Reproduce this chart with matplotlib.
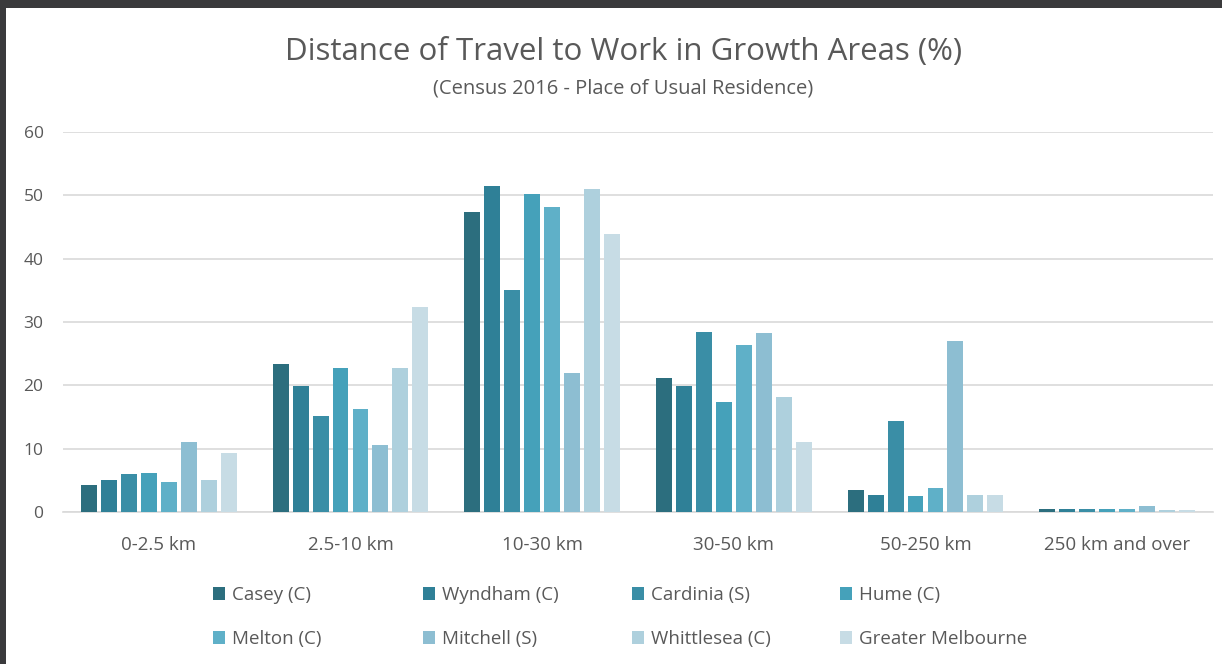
import numpy as np
import matplotlib
matplotlib.use("Agg")
import matplotlib.pyplot as plt
from matplotlib.patches import Rectangle

plt.rcParams['font.family'] = ['Open Sans', 'DejaVu Sans']

# categories and series
categories = ['0-2.5 km', '2.5-10 km', '10-30 km', '30-50 km', '50-250 km', '250 km and over']
areas = ['Casey (C)', 'Wyndham (C)', 'Cardinia (S)', 'Hume (C)',
         'Melton (C)', 'Mitchell (S)', 'Whittlesea (C)', 'Greater Melbourne']

casey = [4.3, 23.4, 47.3, 21.2, 3.5, 0.4]
wyndham = [5.0, 19.9, 51.5, 19.9, 2.7, 0.4]
cardinia = [6.0, 15.2, 35.1, 28.4, 14.4, 0.4]
hume = [6.1, 22.8, 50.2, 17.4, 2.6, 0.4]
melton = [4.7, 16.2, 48.1, 26.3, 3.8, 0.4]
mitchell = [11.1, 10.6, 22.0, 28.2, 27.0, 0.9]
whittlesea = [5.0, 22.7, 51.0, 18.1, 2.7, 0.3]
greater_melb = [9.3, 32.4, 43.9, 11.1, 2.7, 0.3]

series = [casey, wyndham, cardinia, hume, melton, mitchell, whittlesea, greater_melb]
colors = ['#2c6e7e', '#2f8097', '#3a8ea6', '#45a1ba',
          '#5fb0c8', '#8dbed2', '#aed0dd', '#c7dce5']

W, H = 1222, 664
fig = plt.figure(figsize=(W / 100, H / 100), dpi=100, facecolor='#3a3a3c')
# white chart area inside the dark border
fig.patches.append(Rectangle((6 / W, 0), 1, (H - 8) / H, transform=fig.transFigure,
                             facecolor='white', edgecolor='none', zorder=-5))

ax = fig.add_axes([63 / W, (H - 512) / H, 1150 / W, 380 / H])
ax.set_facecolor('none')

x = np.arange(len(categories))
step = 0.104
bw = 0.083
bars = []
for i, (vals, c) in enumerate(zip(series, colors)):
    b = ax.bar(x + (i - 3.5) * step, vals, width=bw, color=c, label=areas[i], zorder=3)
    bars.append(b)

ax.set_xlim(-0.5, len(categories) - 0.5)
ax.set_ylim(0, 60)
ax.set_yticks(range(0, 61, 10))
ax.set_xticks(x)
ax.set_xticklabels(categories)
ax.yaxis.grid(True, color='#d9d9d9', lw=1.2, zorder=0)
for s in ['top', 'right', 'left']:
    ax.spines[s].set_visible(False)
ax.spines['bottom'].set_color('#d9d9d9')
ax.spines['bottom'].set_linewidth(1.2)
ax.tick_params(axis='both', length=0, colors='#595959', labelsize=13.5)
ax.tick_params(axis='y', labelsize=12.5, pad=14)
ax.tick_params(axis='x', pad=17)

fig.text(0.510, 0.921, 'Distance of Travel to Work in Growth Areas (%)',
         ha='center', va='center', fontsize=22.5, color='#595959')
fig.text(0.510, 0.867, '(Census 2016 - Place of Usual Residence)',
         ha='center', va='center', fontsize=14.5, color='#595959')

# legend: 4 evenly spaced columns, two rows
col_x = [213, 423, 632, 840]
for j in range(4):
    leg = fig.legend([bars[j], bars[j + 4]], [areas[j], areas[j + 4]],
                     loc='center left', bbox_to_anchor=(col_x[j] / W, 0.0705),
                     frameon=False, fontsize=13.5, borderpad=0, borderaxespad=0,
                     handlelength=0.65, handleheight=0.65, handletextpad=0.35,
                     labelspacing=1.4)
    for t in leg.get_texts():
        t.set_color('#595959')

fig.savefig('out.png', dpi=100, facecolor=fig.get_facecolor())
